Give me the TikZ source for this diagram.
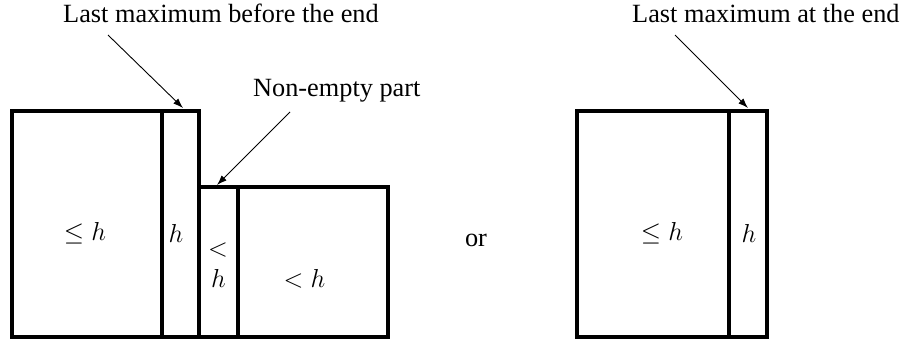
\documentclass[tikz,border=0pt]{standalone}
\usepackage{fix-cm}
\usepackage{fontspec}
\setmainfont{Liberation Serif}
\usetikzlibrary{arrows.meta}
\tikzset{
  cell/.style={draw, line width=4pt, inner sep=0pt, outer sep=0pt, anchor=north west},
  lab/.style={inner sep=0pt, font=\fontsize{26}{30}\selectfont},
  captxt/.style={inner sep=0pt, font=\fontsize{26.3}{30}\selectfont},
  ptr/.style={line width=0.9pt, -{Latex[length=10pt,width=7pt]}}
}
\begin{document}
\begin{tikzpicture}[x=1pt,y=-1pt]
\useasboundingbox (0,0) rectangle (903,343);
% left configuration
\node[cell, minimum width=150pt, minimum height=226pt] (A) at (12,111) {};
\node[cell, minimum width=37pt, minimum height=226pt] (B) at (162,111) {};
\node[cell, minimum width=39pt, minimum height=150pt] (C) at (199,187) {};
\node[cell, minimum width=150pt, minimum height=150pt] (D) at (238,187) {};
% right configuration
\node[cell, minimum width=152pt, minimum height=226pt] (E) at (577,111) {};
\node[cell, minimum width=38pt, minimum height=226pt] (F) at (729,111) {};
% labels in cells
\node[lab] (lA) at (85,233) {$\le h$};
\node[lab] (lB) at (176,233) {$h$};
\node[lab] (lC1) at (218,250) {$<$};
\node[lab] (lC2) at (218.5,278) {$h$};
\node[lab] (lD) at (304.5,279) {$<h$};
\node[lab] (lE) at (662,233) {$\le h$};
\node[lab] (lF) at (749,233) {$h$};
\node[captxt] (or) at (476,240) {or};
% captions
\node[captxt, anchor=base west] (t1) at (63,22) {Last maximum before the end};
\node[captxt, anchor=base west] (t2) at (253,96) {Non-empty part};
\node[captxt, anchor=base west] (t3) at (632,22) {Last maximum at the end};
% arrows
\coordinate (s1) at (108,35);
\coordinate (e1) at (183,108);
\coordinate (s2) at (290,112);
\coordinate (e2) at (217,185);
\coordinate (s3) at (675,35);
\coordinate (e3) at (748,108);
\draw[ptr] (s1) -- (e1);
\draw[ptr] (s2) -- (e2);
\draw[ptr] (s3) -- (e3);
\end{tikzpicture}
\end{document}
